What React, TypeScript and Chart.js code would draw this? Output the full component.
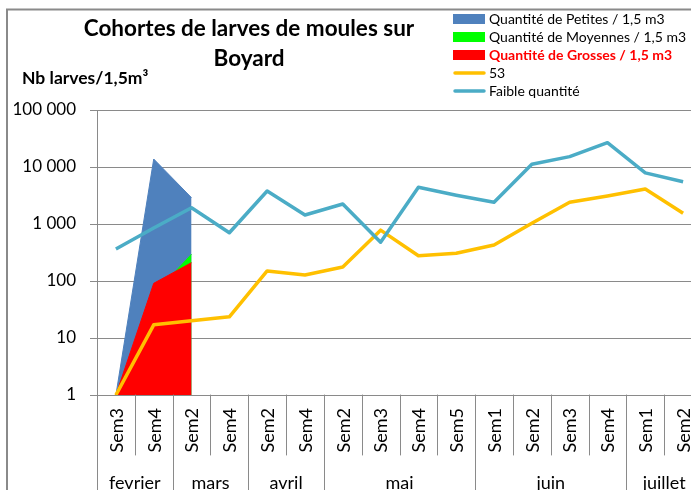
import React, { useEffect, useRef } from 'react';
import { Chart, registerables } from 'chart.js';

Chart.register(...registerables);

const categories = ['Sem3', 'Sem4', 'Sem2', 'Sem4', 'Sem2', 'Sem4', 'Sem2', 'Sem3', 'Sem4', 'Sem5', 'Sem1', 'Sem2', 'Sem3', 'Sem4', 'Sem1', 'Sem2'];
const months = ['fevrier', 'mars', 'avril', 'mai', 'juin', 'juillet'];
const monthSpans = [2, 2, 2, 4, 4, 2];

const petites = [1, 13800, 2890, null, null, null, null, null, null, null, null, null, null, null, null, null];
const moyennes = [1, 58, 295, null, null, null, null, null, null, null, null, null, null, null, null, null];
const grosses = [1, 91, 210, null, null, null, null, null, null, null, null, null, null, null, null, null];
const serie53 = [1, 17, 20, 23.5, 150, 127, 176, 780, 277, 306, 427, 1030, 2400, 3100, 4100, 1540];
const faible = [363, 850, 1930, 703, 3800, 1440, 2240, 480, 4400, 3200, 2400, 11200, 15200, 26700, 7900, 5500];

const yTicks = [1, 10, 100, 1000, 10000, 100000];
const yTickLabels = ['1', '10', '100', '1 000', '10 000', '100 000'];

const titleLines = ['Cohortes de larves de moules sur', 'Boyard'];
const yTitle = 'Nb larves/1,5m³';
const legendLabels = ['Quantité de Petites / 1,5 m3', 'Quantité de Moyennes / 1,5 m3', 'Quantité de Grosses / 1,5 m3', '53', 'Faible quantité'];

const C_PETITES = '#4F81BD';
const C_MOYENNES = '#00FF00';
const C_GROSSES = '#FF0000';
const C_53 = '#FFC000';
const C_FAIBLE = '#4BACC6';
const GRID = '#8a8a8a';
const FONT = 'Lato, "Open Sans", sans-serif';

const decorPlugin = {
  id: 'decor',
  afterDraw(chart: any) {
    const ctx = chart.ctx as CanvasRenderingContext2D;
    const xs = chart.scales.x;
    const area = chart.chartArea;
    ctx.save();

    // chart border
    ctx.strokeStyle = GRID;
    ctx.lineWidth = 2;
    ctx.beginPath();
    ctx.moveTo(7, 520);
    ctx.lineTo(7, 9.5);
    ctx.lineTo(740, 9.5);
    ctx.stroke();

    // title
    ctx.fillStyle = '#000';
    ctx.textAlign = 'center';
    ctx.textBaseline = 'middle';
    ctx.font = `bold 22.5px ${FONT}`;
    titleLines.forEach((t, i) => ctx.fillText(t, 249, 29 + i * 30));

    // y title
    ctx.textAlign = 'left';
    ctx.font = `bold 17.5px ${FONT}`;
    ctx.fillText(yTitle, 22, 78);

    // legend
    const colors = [C_PETITES, C_MOYENNES, C_GROSSES, C_53, C_FAIBLE];
    legendLabels.forEach((t, i) => {
      const cy = 19 + i * 18;
      if (i < 3) {
        ctx.fillStyle = colors[i];
        ctx.fillRect(453, cy - 5, 32, 10);
      } else {
        ctx.strokeStyle = colors[i];
        ctx.lineWidth = 3.5;
        ctx.lineCap = 'round';
        ctx.beginPath();
        ctx.moveTo(455, cy);
        ctx.lineTo(484, cy);
        ctx.stroke();
      }
      ctx.fillStyle = i === 2 ? '#FF0000' : '#000';
      ctx.font = i === 2 ? `bold 14px ${FONT}` : `14px ${FONT}`;
      ctx.textAlign = 'left';
      ctx.fillText(t, 489, cy);
    });

    // x category labels
    ctx.fillStyle = '#000';
    ctx.font = `18px ${FONT}`;
    categories.forEach((c, i) => {
      const x = xs.getPixelForValue(i);
      ctx.save();
      ctx.translate(x, 408);
      ctx.rotate(-Math.PI / 2);
      ctx.textAlign = 'right';
      ctx.textBaseline = 'middle';
      ctx.fillText(c, 0, 1);
      ctx.restore();
    });

    // separators
    const half = (xs.getPixelForValue(1) - xs.getPixelForValue(0)) / 2;
    const bound = (i: number) => (i < categories.length ? xs.getPixelForValue(i) - half : xs.getPixelForValue(categories.length - 1) + half);
    const monthStarts: number[] = [];
    let acc = 0;
    monthSpans.forEach((s) => { monthStarts.push(acc); acc += s; });
    monthStarts.push(acc);
    ctx.strokeStyle = GRID;
    ctx.lineWidth = 1;
    for (let i = 0; i <= categories.length; i++) {
      const bx = Math.round(bound(i)) + 0.5;
      const long = monthStarts.includes(i);
      ctx.beginPath();
      ctx.moveTo(bx, area.bottom);
      ctx.lineTo(bx, long ? 520 : 455);
      ctx.stroke();
    }

    // month labels
    ctx.fillStyle = '#000';
    ctx.font = `18px ${FONT}`;
    ctx.textAlign = 'center';
    ctx.textBaseline = 'middle';
    months.forEach((m, k) => {
      const cx = (bound(monthStarts[k]) + bound(monthStarts[k + 1])) / 2;
      ctx.fillText(m, cx, 483);
    });

    ctx.restore();
  },
};

export default function App() {
  const ref = useRef<HTMLCanvasElement | null>(null);

  useEffect(() => {
    if (!ref.current) return;
    const areaDs = (label: string, data: (number | null)[], color: string, order: number) => ({
      label,
      data,
      backgroundColor: color,
      borderColor: color,
      borderWidth: 1,
      fill: 'start',
      pointRadius: 0,
      tension: 0,
      spanGaps: false,
      order,
    });
    const lineDs = (label: string, data: number[], color: string, order: number) => ({
      label,
      data,
      borderColor: color,
      backgroundColor: color,
      borderWidth: 3.5,
      borderJoinStyle: 'round',
      fill: false,
      pointRadius: 0,
      tension: 0,
      order,
    });
    const chart = new Chart(ref.current, {
      type: 'line',
      data: {
        labels: categories,
        datasets: [
          areaDs(legendLabels[0], petites, C_PETITES, 4),
          areaDs(legendLabels[1], moyennes, C_MOYENNES, 3),
          areaDs(legendLabels[2], grosses, C_GROSSES, 2),
          lineDs(legendLabels[3], serie53, C_53, 1),
          lineDs(legendLabels[4], faible, C_FAIBLE, 0),
        ] as any,
      },
      options: {
        animation: false,
        responsive: false,
        events: [],
        layout: { padding: { top: 110, right: 18, bottom: 0, left: 0 } },
        plugins: {
          legend: { display: false },
          title: { display: false },
          tooltip: { enabled: false },
        },
        scales: {
          x: {
            type: 'category',
            offset: true,
            ticks: { display: false },
            grid: { display: false },
            border: { display: true, color: GRID, width: 1 },
            afterFit: (s: any) => { s.height = 105; },
          },
          y: {
            type: 'logarithmic',
            min: 1,
            max: 100000,
            afterBuildTicks: (s: any) => { s.ticks = yTicks.map((v) => ({ value: v })); },
            afterFit: (s: any) => { s.width = 97; },
            ticks: {
              autoSkip: false,
              padding: 14,
              color: '#000',
              font: { family: FONT, size: 17 },
              callback: (v: any) => {
                const k = yTicks.indexOf(Number(v));
                return k >= 0 ? yTickLabels[k] : '';
              },
            },
            grid: { color: GRID, lineWidth: 1, tickLength: 7 },
            border: { display: true, color: GRID, width: 1 },
          },
        },
      } as any,
      plugins: [decorPlugin],
    });
    return () => chart.destroy();
  }, []);

  return (
    <div style={{ position: 'fixed', left: 0, top: 0, width: 691, height: 490, overflow: 'hidden', background: '#fff' }}>
      <canvas ref={ref} width={720} height={500} style={{ display: 'block', width: 720, height: 500 }} />
    </div>
  );
}
